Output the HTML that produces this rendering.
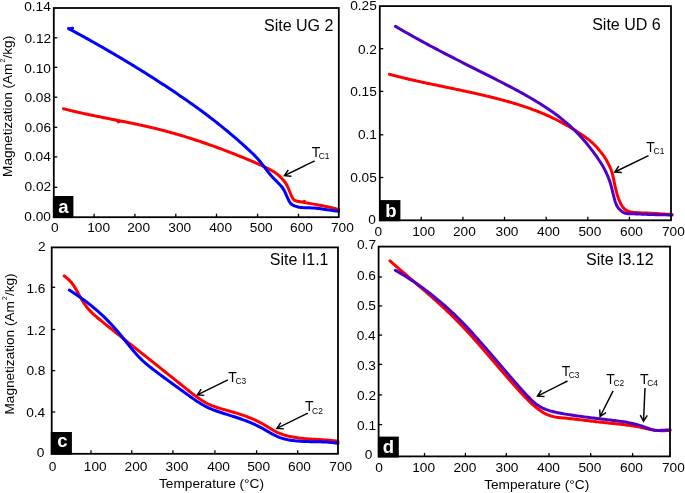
<!DOCTYPE html>
<html><head><meta charset="utf-8"><style>
html,body{margin:0;padding:0;background:#fff;}
svg{display:block;font-family:"Liberation Sans", sans-serif;}
</style></head><body>
<svg width="685" height="493" viewBox="0 0 685 493">
<rect width="685" height="493" fill="#fff"/>
<path d="M63.50,108.75 L65.00,109.13 L66.50,109.51 L68.00,109.89 L69.50,110.26 L71.00,110.62 L72.50,110.98 L74.00,111.33 L75.50,111.68 L77.00,112.03 L78.50,112.37 L80.00,112.71 L81.50,113.04 L83.00,113.37 L84.50,113.70 L86.00,114.02 L87.50,114.34 L89.00,114.66 L90.50,114.97 L92.00,115.28 L93.50,115.59 L95.00,115.90 L96.50,116.20 L98.00,116.51 L99.50,116.81 L101.00,117.11 L102.50,117.41 L104.00,117.70 L105.50,118.00 L107.00,118.29 L108.50,118.59 L110.00,118.88 L111.50,119.18 L113.00,119.47 L114.50,119.77 L116.00,120.06 L117.50,120.36 L119.00,120.65 L120.50,120.95 L122.00,121.24 L123.50,121.54 L125.00,121.84 L126.50,122.14 L128.00,122.45 L129.50,122.75 L131.00,123.06 L132.50,123.36 L134.00,123.68 L135.50,123.99 L137.00,124.31 L138.50,124.62 L140.00,124.95 L141.50,125.27 L143.00,125.60 L144.50,125.93 L146.00,126.27 L147.50,126.61 L149.00,126.95 L150.50,127.30 L152.00,127.65 L153.50,128.01 L155.00,128.37 L156.50,128.74 L158.00,129.11 L159.50,129.49 L161.00,129.87 L162.50,130.26 L164.00,130.65 L165.50,131.05 L167.00,131.45 L168.50,131.86 L170.00,132.27 L171.50,132.68 L173.00,133.10 L174.50,133.53 L176.00,133.96 L177.50,134.39 L179.00,134.83 L180.50,135.28 L182.00,135.73 L183.50,136.18 L185.00,136.64 L186.50,137.10 L188.00,137.56 L189.50,138.03 L191.00,138.51 L192.50,138.99 L194.00,139.47 L195.50,139.96 L197.00,140.45 L198.50,140.95 L200.00,141.45 L201.50,141.96 L203.00,142.47 L204.50,142.98 L206.00,143.50 L207.50,144.02 L209.00,144.55 L210.50,145.08 L212.00,145.61 L213.50,146.15 L215.00,146.69 L216.50,147.24 L218.00,147.79 L219.50,148.34 L221.00,148.90 L222.50,149.46 L224.00,150.03 L225.50,150.60 L227.00,151.17 L228.50,151.75 L230.00,152.33 L231.50,152.92 L233.00,153.51 L234.50,154.10 L236.00,154.69 L237.50,155.29 L239.00,155.90 L240.50,156.50 L242.00,157.11 L243.50,157.73 L245.00,158.35 L246.50,158.97 L248.00,159.59 L249.50,160.22 L251.00,160.85 L252.50,161.49 L254.00,162.13 L255.50,162.77 L257.00,163.43 L258.50,164.09 L260.00,164.77 L261.50,165.45 L263.00,166.15 L264.50,166.87 L266.00,167.59 L267.50,168.34 L269.00,169.11 L270.50,169.89 L272.00,170.71 L273.50,171.58 L275.00,172.54 L276.50,173.62 L278.00,174.81 L279.50,176.14 L281.00,177.59 L282.48,179.16 L283.83,180.73 L285.07,182.29 L286.19,183.93 L287.12,185.59 L287.89,187.22 L288.54,188.78 L289.15,190.31 L289.73,191.82 L290.32,193.29 L290.93,194.75 L291.58,196.18 L292.30,197.58 L293.13,198.91 L294.23,200.07 L295.73,200.83 L297.23,201.19 L298.73,201.50 L300.23,201.80 L301.73,202.08 L303.23,202.35 L304.73,202.61 L306.23,202.86 L307.73,203.11 L309.23,203.36 L310.73,203.61 L312.23,203.86 L313.73,204.12 L315.23,204.38 L316.73,204.65 L318.23,204.93 L319.73,205.21 L321.23,205.50 L322.73,205.80 L324.23,206.10 L325.73,206.41 L327.23,206.74 L328.73,207.07 L330.23,207.41 L331.73,207.77 L333.23,208.13 L334.73,208.51 L336.23,208.90 L337.73,209.30 L338.50,209.51" fill="none" stroke="#ff0000" stroke-width="3.0" stroke-linejoin="round" stroke-linecap="round"/>
<path d="M68.50,28.54 L70.00,29.34 L71.50,30.15 L73.00,30.95 L74.50,31.77 L76.00,32.58 L77.50,33.40 L79.00,34.21 L80.50,35.03 L82.00,35.86 L83.50,36.68 L85.00,37.51 L86.50,38.34 L88.00,39.17 L89.50,40.01 L91.00,40.85 L92.50,41.69 L94.00,42.53 L95.50,43.37 L97.00,44.22 L98.50,45.07 L100.00,45.93 L101.50,46.78 L103.00,47.64 L104.50,48.50 L106.00,49.37 L107.50,50.23 L109.00,51.10 L110.50,51.97 L112.00,52.85 L113.50,53.73 L115.00,54.61 L116.50,55.49 L118.00,56.38 L119.50,57.26 L121.00,58.16 L122.50,59.05 L124.00,59.95 L125.50,60.85 L127.00,61.75 L128.50,62.66 L130.00,63.57 L131.50,64.48 L133.00,65.40 L134.50,66.32 L136.00,67.24 L137.50,68.16 L139.00,69.09 L140.50,70.02 L142.00,70.95 L143.50,71.89 L145.00,72.83 L146.50,73.78 L148.00,74.72 L149.50,75.67 L151.00,76.63 L152.50,77.58 L154.00,78.54 L155.50,79.51 L157.00,80.47 L158.50,81.44 L160.00,82.42 L161.50,83.39 L163.00,84.37 L164.50,85.36 L166.00,86.34 L167.50,87.34 L169.00,88.33 L170.50,89.33 L172.00,90.33 L173.50,91.33 L175.00,92.34 L176.50,93.35 L178.00,94.37 L179.50,95.39 L181.00,96.42 L182.50,97.45 L184.00,98.48 L185.50,99.52 L187.00,100.57 L188.50,101.62 L190.00,102.67 L191.50,103.74 L193.00,104.80 L194.50,105.88 L196.00,106.96 L197.50,108.04 L199.00,109.13 L200.50,110.23 L202.00,111.33 L203.50,112.45 L205.00,113.56 L206.50,114.69 L208.00,115.82 L209.50,116.96 L211.00,118.11 L212.50,119.26 L214.00,120.43 L215.50,121.60 L217.00,122.78 L218.50,123.96 L220.00,125.16 L221.50,126.36 L223.00,127.58 L224.50,128.80 L226.00,130.03 L227.50,131.27 L229.00,132.52 L230.50,133.78 L232.00,135.05 L233.50,136.33 L235.00,137.61 L236.50,138.91 L238.00,140.22 L239.50,141.54 L241.00,142.87 L242.50,144.21 L244.00,145.56 L245.50,146.93 L247.00,148.30 L248.50,149.69 L250.00,151.08 L251.50,152.49 L253.00,153.93 L254.50,155.41 L255.99,156.94 L257.43,158.48 L258.79,160.01 L260.09,161.55 L261.33,163.09 L262.51,164.61 L263.66,166.12 L264.79,167.63 L265.92,169.12 L267.06,170.61 L268.21,172.09 L269.40,173.57 L270.63,175.03 L271.94,176.49 L273.32,177.95 L274.75,179.43 L276.22,180.92 L277.71,182.43 L279.18,183.95 L280.61,185.48 L281.96,187.08 L283.14,188.72 L284.12,190.36 L284.94,191.98 L285.65,193.53 L286.32,195.06 L286.97,196.56 L287.63,198.03 L288.31,199.49 L289.03,200.92 L289.83,202.30 L290.79,203.59 L292.14,204.75 L293.64,205.52 L295.14,206.10 L296.64,206.56 L298.14,206.93 L299.64,207.20 L301.14,207.41 L302.64,207.55 L304.14,207.65 L305.64,207.71 L307.14,207.75 L308.64,207.79 L310.14,207.83 L311.64,207.90 L313.14,208.00 L314.64,208.12 L316.14,208.26 L317.64,208.42 L319.14,208.60 L320.64,208.79 L322.14,209.00 L323.64,209.21 L325.14,209.43 L326.64,209.66 L328.14,209.88 L329.64,210.11 L331.14,210.33 L332.64,210.55 L334.14,210.75 L335.64,210.95 L337.14,211.13 L338.50,211.28" fill="none" stroke="#0000ff" stroke-width="3.0" stroke-linejoin="round" stroke-linecap="round"/>
<path d="M116.2,120.2 L118.4,122.1 L120.6,120.9" fill="none" stroke="#ff0000" stroke-width="2.6" stroke-linejoin="round"/>
<circle cx="304.4" cy="201.5" r="1.7" fill="#ff0000"/>
<path d="M69.3,28.9 L72.6,28.2" fill="none" stroke="#0000ff" stroke-width="3" stroke-linecap="round"/>
<path d="M389.40,74.28 L390.90,74.68 L392.40,75.08 L393.90,75.47 L395.40,75.86 L396.90,76.25 L398.40,76.63 L399.90,77.00 L401.40,77.37 L402.90,77.74 L404.40,78.10 L405.90,78.46 L407.40,78.82 L408.90,79.17 L410.40,79.52 L411.90,79.87 L413.40,80.21 L414.90,80.55 L416.40,80.89 L417.90,81.22 L419.40,81.55 L420.90,81.88 L422.40,82.21 L423.90,82.54 L425.40,82.86 L426.90,83.18 L428.40,83.51 L429.90,83.82 L431.40,84.14 L432.90,84.46 L434.40,84.77 L435.90,85.09 L437.40,85.40 L438.90,85.71 L440.40,86.02 L441.90,86.34 L443.40,86.65 L444.90,86.96 L446.40,87.27 L447.90,87.58 L449.40,87.89 L450.90,88.20 L452.40,88.51 L453.90,88.82 L455.40,89.14 L456.90,89.45 L458.40,89.76 L459.90,90.08 L461.40,90.40 L462.90,90.71 L464.40,91.03 L465.90,91.36 L467.40,91.68 L468.90,92.00 L470.40,92.33 L471.90,92.66 L473.40,92.99 L474.90,93.32 L476.40,93.66 L477.90,94.00 L479.40,94.34 L480.90,94.68 L482.40,95.03 L483.90,95.38 L485.40,95.74 L486.90,96.09 L488.40,96.46 L489.90,96.82 L491.40,97.19 L492.90,97.56 L494.40,97.94 L495.90,98.32 L497.40,98.70 L498.90,99.09 L500.40,99.49 L501.90,99.89 L503.40,100.29 L504.90,100.70 L506.40,101.12 L507.90,101.54 L509.40,101.96 L510.90,102.39 L512.40,102.83 L513.90,103.28 L515.40,103.73 L516.90,104.19 L518.40,104.66 L519.90,105.13 L521.40,105.61 L522.90,106.10 L524.40,106.60 L525.90,107.11 L527.40,107.63 L528.90,108.15 L530.40,108.69 L531.90,109.23 L533.40,109.79 L534.90,110.35 L536.40,110.93 L537.90,111.52 L539.40,112.12 L540.90,112.73 L542.40,113.35 L543.90,113.98 L545.40,114.63 L546.90,115.29 L548.40,115.96 L549.90,116.64 L551.40,117.34 L552.90,118.05 L554.40,118.77 L555.90,119.51 L557.40,120.26 L558.90,121.03 L560.40,121.81 L561.90,122.61 L563.40,123.42 L564.90,124.25 L566.40,125.09 L567.90,125.95 L569.40,126.83 L570.90,127.72 L572.40,128.63 L573.90,129.56 L575.40,130.51 L576.90,131.47 L578.40,132.45 L579.90,133.45 L581.40,134.46 L582.90,135.50 L584.40,136.56 L585.90,137.63 L587.40,138.73 L588.90,139.87 L590.40,141.08 L591.90,142.35 L593.40,143.73 L594.90,145.21 L596.36,146.77 L597.71,148.31 L598.99,149.84 L600.22,151.36 L601.42,152.87 L602.60,154.39 L603.76,155.93 L604.85,157.50 L605.84,159.08 L606.73,160.65 L607.55,162.20 L608.32,163.73 L609.06,165.24 L609.78,166.75 L610.50,168.31 L611.15,169.93 L611.71,171.55 L612.19,173.16 L612.60,174.76 L612.97,176.32 L613.31,177.86 L613.63,179.39 L613.95,180.90 L614.26,182.40 L614.57,183.89 L614.88,185.37 L615.21,186.84 L615.55,188.31 L615.90,189.77 L616.27,191.23 L616.67,192.69 L617.08,194.15 L617.52,195.60 L617.99,197.05 L618.49,198.49 L619.04,199.93 L619.63,201.36 L620.28,202.79 L621.00,204.20 L621.81,205.60 L622.75,206.98 L623.86,208.33 L625.26,209.62 L626.76,210.61 L628.26,211.27 L629.76,211.71 L631.26,211.99 L632.76,212.22 L634.26,212.40 L635.76,212.55 L637.26,212.67 L638.76,212.77 L640.26,212.84 L641.76,212.90 L643.26,212.96 L644.76,213.01 L646.26,213.06 L647.76,213.12 L649.26,213.18 L650.76,213.26 L652.26,213.34 L653.76,213.42 L655.26,213.51 L656.76,213.61 L658.26,213.70 L659.76,213.80 L661.26,213.89 L662.76,213.98 L664.26,214.07 L665.76,214.15 L667.26,214.22 L668.76,214.29 L670.26,214.35 L671.76,214.39 L672.00,214.40" fill="none" stroke="#ff0000" stroke-width="3.0" stroke-linejoin="round" stroke-linecap="round"/>
<path d="M395.50,26.36 L397.00,27.24 L398.50,28.12 L400.00,29.00 L401.50,29.87 L403.00,30.74 L404.50,31.60 L406.00,32.46 L407.50,33.32 L409.00,34.17 L410.50,35.02 L412.00,35.86 L413.50,36.70 L415.00,37.53 L416.50,38.37 L418.00,39.19 L419.50,40.02 L421.00,40.84 L422.50,41.66 L424.00,42.47 L425.50,43.28 L427.00,44.09 L428.50,44.90 L430.00,45.70 L431.50,46.50 L433.00,47.29 L434.50,48.09 L436.00,48.88 L437.50,49.67 L439.00,50.46 L440.50,51.24 L442.00,52.02 L443.50,52.80 L445.00,53.58 L446.50,54.36 L448.00,55.13 L449.50,55.90 L451.00,56.68 L452.50,57.45 L454.00,58.21 L455.50,58.98 L457.00,59.74 L458.50,60.51 L460.00,61.27 L461.50,62.03 L463.00,62.79 L464.50,63.55 L466.00,64.31 L467.50,65.07 L469.00,65.83 L470.50,66.59 L472.00,67.34 L473.50,68.10 L475.00,68.85 L476.50,69.61 L478.00,70.37 L479.50,71.12 L481.00,71.88 L482.50,72.63 L484.00,73.39 L485.50,74.15 L487.00,74.90 L488.50,75.66 L490.00,76.42 L491.50,77.18 L493.00,77.94 L494.50,78.70 L496.00,79.46 L497.50,80.22 L499.00,80.99 L500.50,81.75 L502.00,82.52 L503.50,83.29 L505.00,84.06 L506.50,84.84 L508.00,85.61 L509.50,86.40 L511.00,87.18 L512.50,87.97 L514.00,88.77 L515.50,89.57 L517.00,90.38 L518.50,91.19 L520.00,92.01 L521.50,92.83 L523.00,93.66 L524.50,94.50 L526.00,95.35 L527.50,96.20 L529.00,97.06 L530.50,97.93 L532.00,98.81 L533.50,99.70 L535.00,100.60 L536.50,101.51 L538.00,102.42 L539.50,103.35 L541.00,104.29 L542.50,105.24 L544.00,106.21 L545.50,107.18 L547.00,108.17 L548.50,109.17 L550.00,110.19 L551.50,111.23 L553.00,112.28 L554.50,113.36 L556.00,114.45 L557.50,115.57 L559.00,116.71 L560.50,117.88 L562.00,119.07 L563.50,120.30 L565.00,121.54 L566.50,122.82 L568.00,124.13 L569.50,125.48 L571.00,126.85 L572.50,128.26 L574.00,129.71 L575.50,131.19 L577.00,132.71 L578.46,134.23 L579.88,135.75 L581.27,137.27 L582.62,138.78 L583.95,140.30 L585.24,141.82 L586.51,143.33 L587.75,144.85 L588.96,146.37 L590.15,147.88 L591.32,149.40 L592.46,150.91 L593.58,152.42 L594.68,153.94 L595.76,155.45 L596.83,156.96 L597.87,158.48 L598.90,159.99 L599.91,161.50 L600.90,163.03 L601.86,164.56 L602.78,166.09 L603.66,167.63 L604.50,169.17 L605.29,170.71 L606.05,172.25 L606.76,173.79 L607.44,175.33 L608.08,176.87 L608.70,178.40 L609.27,179.95 L609.82,181.51 L610.32,183.08 L610.77,184.64 L611.20,186.19 L611.60,187.72 L611.98,189.24 L612.36,190.75 L612.73,192.26 L613.10,193.75 L613.47,195.24 L613.84,196.72 L614.23,198.20 L614.63,199.66 L615.05,201.11 L615.51,202.53 L616.02,203.92 L616.62,205.28 L617.35,206.62 L618.27,207.93 L619.46,209.29 L620.88,210.66 L622.38,211.82 L623.88,212.67 L625.38,213.23 L626.88,213.57 L628.38,213.73 L629.88,213.79 L631.38,213.80 L632.88,213.82 L634.38,213.85 L635.88,213.89 L637.38,213.95 L638.88,214.01 L640.38,214.08 L641.88,214.15 L643.38,214.22 L644.88,214.29 L646.38,214.36 L647.88,214.42 L649.38,214.48 L650.88,214.53 L652.38,214.57 L653.88,214.61 L655.38,214.65 L656.88,214.68 L658.38,214.71 L659.88,214.74 L661.38,214.77 L662.88,214.80 L664.38,214.82 L665.88,214.85 L667.38,214.88 L668.88,214.92 L670.38,214.96 L671.88,215.00 L672.00,215.00" fill="none" stroke="#5000c8" stroke-width="3.0" stroke-linejoin="round" stroke-linecap="round"/>
<path d="M64.20,275.94 L65.70,277.07 L67.20,278.29 L68.70,279.63 L70.20,281.15 L71.59,282.75 L72.81,284.34 L73.89,285.92 L74.86,287.48 L75.77,289.02 L76.64,290.54 L77.48,292.06 L78.30,293.56 L79.12,295.06 L79.95,296.55 L80.78,298.03 L81.64,299.51 L82.53,300.97 L83.47,302.43 L84.46,303.89 L85.51,305.35 L86.61,306.80 L87.79,308.26 L89.03,309.71 L90.36,311.17 L91.78,312.62 L93.28,314.06 L94.78,315.43 L96.28,316.73 L97.78,317.99 L99.28,319.22 L100.78,320.44 L102.28,321.66 L103.78,322.87 L105.28,324.08 L106.78,325.30 L108.28,326.51 L109.78,327.71 L111.28,328.92 L112.78,330.13 L114.28,331.33 L115.78,332.54 L117.28,333.74 L118.78,334.94 L120.28,336.14 L121.78,337.34 L123.28,338.54 L124.78,339.73 L126.28,340.93 L127.78,342.13 L129.28,343.32 L130.78,344.52 L132.28,345.71 L133.78,346.90 L135.28,348.10 L136.78,349.29 L138.28,350.48 L139.78,351.68 L141.28,352.87 L142.78,354.06 L144.28,355.25 L145.78,356.44 L147.28,357.63 L148.78,358.83 L150.28,360.02 L151.78,361.21 L153.28,362.40 L154.78,363.59 L156.28,364.79 L157.78,365.98 L159.28,367.17 L160.78,368.37 L162.28,369.56 L163.78,370.76 L165.28,371.95 L166.78,373.15 L168.28,374.35 L169.78,375.55 L171.28,376.75 L172.78,377.95 L174.28,379.15 L175.78,380.35 L177.28,381.55 L178.78,382.76 L180.28,383.97 L181.78,385.17 L183.28,386.38 L184.78,387.59 L186.28,388.80 L187.78,390.01 L189.28,391.21 L190.78,392.40 L192.28,393.58 L193.78,394.73 L195.28,395.86 L196.78,396.97 L198.28,398.04 L199.78,399.07 L201.28,400.06 L202.78,401.00 L204.28,401.89 L205.78,402.72 L207.28,403.50 L208.78,404.23 L210.28,404.91 L211.78,405.54 L213.28,406.13 L214.78,406.69 L216.28,407.21 L217.78,407.70 L219.28,408.18 L220.78,408.63 L222.28,409.07 L223.78,409.50 L225.28,409.92 L226.78,410.34 L228.28,410.76 L229.78,411.19 L231.28,411.62 L232.78,412.05 L234.28,412.49 L235.78,412.93 L237.28,413.39 L238.78,413.86 L240.28,414.34 L241.78,414.83 L243.28,415.34 L244.78,415.86 L246.28,416.41 L247.78,416.97 L249.28,417.55 L250.78,418.16 L252.28,418.79 L253.78,419.44 L255.28,420.12 L256.78,420.83 L258.28,421.57 L259.78,422.34 L261.28,423.14 L262.78,423.98 L264.28,424.85 L265.78,425.74 L267.28,426.65 L268.78,427.57 L270.28,428.48 L271.78,429.37 L273.28,430.23 L274.78,431.05 L276.28,431.82 L277.78,432.53 L279.28,433.19 L280.78,433.78 L282.28,434.33 L283.78,434.83 L285.28,435.28 L286.78,435.70 L288.28,436.08 L289.78,436.43 L291.28,436.75 L292.78,437.05 L294.28,437.32 L295.78,437.57 L297.28,437.80 L298.78,438.00 L300.28,438.19 L301.78,438.36 L303.28,438.51 L304.78,438.66 L306.28,438.78 L307.78,438.90 L309.28,439.01 L310.78,439.11 L312.28,439.20 L313.78,439.29 L315.28,439.37 L316.78,439.45 L318.28,439.53 L319.78,439.61 L321.28,439.70 L322.78,439.79 L324.28,439.88 L325.78,439.98 L327.28,440.09 L328.78,440.21 L330.28,440.34 L331.78,440.48 L333.28,440.64 L334.78,440.81 L336.28,441.01 L337.78,441.22 L338.00,441.25" fill="none" stroke="#ff0000" stroke-width="3.0" stroke-linejoin="round" stroke-linecap="round"/>
<path d="M69.30,290.08 L70.80,291.04 L72.30,292.01 L73.80,293.00 L75.30,293.99 L76.80,295.00 L78.30,296.03 L79.80,297.07 L81.30,298.13 L82.80,299.21 L84.30,300.30 L85.80,301.42 L87.30,302.55 L88.80,303.71 L90.30,304.89 L91.80,306.10 L93.30,307.33 L94.80,308.58 L96.30,309.86 L97.80,311.17 L99.30,312.51 L100.80,313.87 L102.30,315.27 L103.80,316.69 L105.30,318.15 L106.80,319.64 L108.29,321.16 L109.75,322.67 L111.18,324.19 L112.58,325.71 L113.95,327.22 L115.29,328.74 L116.60,330.25 L117.89,331.77 L119.15,333.28 L120.40,334.79 L121.62,336.30 L122.84,337.80 L124.05,339.30 L125.25,340.81 L126.45,342.31 L127.65,343.80 L128.86,345.30 L130.07,346.79 L131.29,348.28 L132.53,349.77 L133.79,351.26 L135.07,352.74 L136.38,354.23 L137.72,355.70 L139.11,357.18 L140.55,358.64 L142.05,360.11 L143.55,361.50 L145.05,362.85 L146.55,364.14 L148.05,365.39 L149.55,366.60 L151.05,367.78 L152.55,368.94 L154.05,370.09 L155.55,371.22 L157.05,372.35 L158.55,373.47 L160.05,374.59 L161.55,375.71 L163.05,376.82 L164.55,377.92 L166.05,379.03 L167.55,380.13 L169.05,381.23 L170.55,382.32 L172.05,383.42 L173.55,384.51 L175.05,385.60 L176.55,386.69 L178.05,387.78 L179.55,388.87 L181.05,389.95 L182.55,391.04 L184.05,392.13 L185.55,393.22 L187.05,394.31 L188.55,395.40 L190.05,396.48 L191.55,397.54 L193.05,398.60 L194.55,399.64 L196.05,400.65 L197.55,401.64 L199.05,402.61 L200.55,403.54 L202.05,404.44 L203.55,405.29 L205.05,406.11 L206.55,406.88 L208.05,407.61 L209.55,408.30 L211.05,408.95 L212.55,409.57 L214.05,410.16 L215.55,410.72 L217.05,411.26 L218.55,411.78 L220.05,412.28 L221.55,412.76 L223.05,413.24 L224.55,413.71 L226.05,414.18 L227.55,414.65 L229.05,415.11 L230.55,415.58 L232.05,416.06 L233.55,416.53 L235.05,417.02 L236.55,417.51 L238.05,418.01 L239.55,418.52 L241.05,419.04 L242.55,419.57 L244.05,420.11 L245.55,420.67 L247.05,421.25 L248.55,421.84 L250.05,422.45 L251.55,423.09 L253.05,423.74 L254.55,424.41 L256.05,425.11 L257.55,425.83 L259.05,426.58 L260.55,427.35 L262.05,428.16 L263.55,428.99 L265.05,429.85 L266.55,430.72 L268.05,431.60 L269.55,432.48 L271.05,433.34 L272.55,434.17 L274.05,434.96 L275.55,435.71 L277.05,436.39 L278.55,437.01 L280.05,437.57 L281.55,438.08 L283.05,438.53 L284.55,438.94 L286.05,439.30 L287.55,439.63 L289.05,439.92 L290.55,440.18 L292.05,440.41 L293.55,440.61 L295.05,440.80 L296.55,440.95 L298.05,441.09 L299.55,441.21 L301.05,441.31 L302.55,441.39 L304.05,441.46 L305.55,441.52 L307.05,441.57 L308.55,441.61 L310.05,441.65 L311.55,441.68 L313.05,441.70 L314.55,441.73 L316.05,441.76 L317.55,441.79 L319.05,441.82 L320.55,441.86 L322.05,441.91 L323.55,441.97 L325.05,442.03 L326.55,442.12 L328.05,442.22 L329.55,442.33 L331.05,442.46 L332.55,442.62 L334.05,442.80 L335.55,443.00 L337.05,443.23 L338.00,443.38" fill="none" stroke="#0000ff" stroke-width="3.0" stroke-linejoin="round" stroke-linecap="round"/>
<path d="M390.00,260.85 L391.50,262.19 L393.00,263.52 L394.50,264.84 L396.00,266.16 L397.50,267.47 L399.00,268.78 L400.50,270.08 L402.00,271.38 L403.50,272.67 L405.00,273.96 L406.50,275.25 L408.00,276.53 L409.50,277.82 L411.00,279.10 L412.50,280.38 L414.00,281.66 L415.50,282.94 L417.00,284.22 L418.50,285.50 L420.00,286.79 L421.50,288.08 L423.00,289.37 L424.50,290.67 L426.00,291.96 L427.50,293.27 L429.00,294.58 L430.50,295.89 L432.00,297.22 L433.50,298.55 L435.00,299.88 L436.50,301.23 L438.00,302.58 L439.50,303.94 L441.00,305.31 L442.50,306.70 L444.00,308.09 L445.50,309.50 L447.00,310.91 L448.50,312.34 L450.00,313.78 L451.50,315.24 L453.00,316.71 L454.50,318.19 L456.00,319.69 L457.49,321.20 L458.97,322.71 L460.43,324.22 L461.88,325.73 L463.31,327.23 L464.72,328.74 L466.12,330.25 L467.51,331.75 L468.89,333.26 L470.26,334.76 L471.62,336.27 L472.97,337.77 L474.31,339.28 L475.65,340.78 L476.98,342.29 L478.30,343.79 L479.61,345.29 L480.92,346.80 L482.23,348.30 L483.53,349.80 L484.83,351.30 L486.12,352.80 L487.41,354.31 L488.70,355.81 L489.99,357.31 L491.27,358.81 L492.56,360.31 L493.84,361.81 L495.12,363.31 L496.41,364.81 L497.69,366.31 L498.98,367.81 L500.26,369.31 L501.55,370.80 L502.84,372.30 L504.14,373.80 L505.43,375.30 L506.74,376.80 L508.04,378.29 L509.35,379.79 L510.67,381.29 L511.99,382.78 L513.31,384.28 L514.65,385.78 L515.99,387.27 L517.34,388.77 L518.70,390.26 L520.07,391.76 L521.45,393.25 L522.84,394.74 L524.25,396.23 L525.67,397.72 L527.13,399.20 L528.61,400.69 L530.11,402.15 L531.61,403.56 L533.11,404.93 L534.61,406.24 L536.11,407.50 L537.61,408.69 L539.11,409.82 L540.61,410.88 L542.11,411.85 L543.61,412.75 L545.11,413.56 L546.61,414.29 L548.11,414.92 L549.61,415.47 L551.11,415.95 L552.61,416.36 L554.11,416.71 L555.61,417.01 L557.11,417.26 L558.61,417.47 L560.11,417.66 L561.61,417.82 L563.11,417.96 L564.61,418.10 L566.11,418.23 L567.61,418.37 L569.11,418.52 L570.61,418.67 L572.11,418.83 L573.61,419.00 L575.11,419.16 L576.61,419.34 L578.11,419.51 L579.61,419.69 L581.11,419.87 L582.61,420.05 L584.11,420.24 L585.61,420.42 L587.11,420.61 L588.61,420.80 L590.11,420.98 L591.61,421.17 L593.11,421.35 L594.61,421.53 L596.11,421.71 L597.61,421.88 L599.11,422.05 L600.61,422.22 L602.11,422.38 L603.61,422.54 L605.11,422.70 L606.61,422.85 L608.11,423.00 L609.61,423.15 L611.11,423.30 L612.61,423.46 L614.11,423.61 L615.61,423.76 L617.11,423.92 L618.61,424.08 L620.11,424.24 L621.61,424.41 L623.11,424.59 L624.61,424.77 L626.11,424.96 L627.61,425.16 L629.11,425.37 L630.61,425.58 L632.11,425.81 L633.61,426.04 L635.11,426.29 L636.61,426.55 L638.11,426.83 L639.61,427.12 L641.11,427.42 L642.61,427.74 L644.11,428.07 L645.61,428.42 L647.11,428.76 L648.61,429.10 L650.11,429.42 L651.61,429.72 L653.11,429.98 L654.61,430.21 L656.11,430.39 L657.61,430.53 L659.11,430.62 L660.61,430.67 L662.11,430.68 L663.61,430.67 L665.11,430.63 L666.61,430.56 L668.11,430.48 L669.61,430.38 L670.00,430.35" fill="none" stroke="#ff0000" stroke-width="3.0" stroke-linejoin="round" stroke-linecap="round"/>
<path d="M395.30,270.22 L396.80,271.08 L398.30,271.96 L399.80,272.84 L401.30,273.74 L402.80,274.65 L404.30,275.57 L405.80,276.51 L407.30,277.45 L408.80,278.41 L410.30,279.39 L411.80,280.37 L413.30,281.37 L414.80,282.38 L416.30,283.41 L417.80,284.45 L419.30,285.50 L420.80,286.57 L422.30,287.65 L423.80,288.75 L425.30,289.86 L426.80,290.98 L428.30,292.12 L429.80,293.28 L431.30,294.45 L432.80,295.64 L434.30,296.84 L435.80,298.06 L437.30,299.29 L438.80,300.54 L440.30,301.81 L441.80,303.09 L443.30,304.39 L444.80,305.70 L446.30,307.04 L447.80,308.39 L449.30,309.75 L450.80,311.14 L452.30,312.54 L453.80,313.96 L455.30,315.40 L456.80,316.86 L458.30,318.33 L459.80,319.83 L461.30,321.34 L462.78,322.84 L464.24,324.35 L465.68,325.86 L467.11,327.37 L468.53,328.87 L469.93,330.38 L471.33,331.89 L472.71,333.39 L474.08,334.90 L475.44,336.40 L476.79,337.91 L478.14,339.41 L479.47,340.92 L480.80,342.42 L482.13,343.92 L483.45,345.43 L484.76,346.93 L486.07,348.43 L487.37,349.93 L488.67,351.44 L489.96,352.94 L491.26,354.44 L492.55,355.94 L493.83,357.44 L495.12,358.94 L496.40,360.44 L497.69,361.94 L498.97,363.44 L500.25,364.94 L501.54,366.44 L502.82,367.94 L504.10,369.44 L505.39,370.94 L506.68,372.44 L507.97,373.94 L509.26,375.44 L510.56,376.93 L511.86,378.43 L513.16,379.93 L514.47,381.43 L515.78,382.92 L517.10,384.42 L518.42,385.92 L519.75,387.41 L521.09,388.91 L522.43,390.40 L523.78,391.90 L525.14,393.39 L526.51,394.89 L527.90,396.38 L529.31,397.86 L530.76,399.33 L532.26,400.78 L533.76,402.15 L535.26,403.41 L536.76,404.56 L538.26,405.59 L539.76,406.52 L541.26,407.35 L542.76,408.09 L544.26,408.76 L545.76,409.37 L547.26,409.92 L548.76,410.42 L550.26,410.88 L551.76,411.29 L553.26,411.68 L554.76,412.04 L556.26,412.38 L557.76,412.70 L559.26,413.01 L560.76,413.31 L562.26,413.59 L563.76,413.86 L565.26,414.12 L566.76,414.37 L568.26,414.61 L569.76,414.84 L571.26,415.07 L572.76,415.29 L574.26,415.50 L575.76,415.72 L577.26,415.92 L578.76,416.13 L580.26,416.34 L581.76,416.54 L583.26,416.74 L584.76,416.93 L586.26,417.13 L587.76,417.32 L589.26,417.51 L590.76,417.70 L592.26,417.89 L593.76,418.07 L595.26,418.26 L596.76,418.44 L598.26,418.62 L599.76,418.80 L601.26,418.98 L602.76,419.16 L604.26,419.34 L605.76,419.52 L607.26,419.70 L608.76,419.87 L610.26,420.05 L611.76,420.23 L613.26,420.41 L614.76,420.59 L616.26,420.78 L617.76,420.97 L619.26,421.17 L620.76,421.38 L622.26,421.59 L623.76,421.82 L625.26,422.07 L626.76,422.32 L628.26,422.60 L629.76,422.89 L631.26,423.20 L632.76,423.53 L634.26,423.89 L635.76,424.27 L637.26,424.67 L638.76,425.10 L640.26,425.56 L641.76,426.05 L643.26,426.57 L644.76,427.12 L646.26,427.68 L647.76,428.22 L649.26,428.74 L650.76,429.22 L652.26,429.63 L653.76,429.96 L655.26,430.18 L656.76,430.32 L658.26,430.38 L659.76,430.38 L661.26,430.33 L662.76,430.26 L664.26,430.18 L665.76,430.10 L667.26,430.05 L668.76,430.04 L670.10,430.07" fill="none" stroke="#5000c8" stroke-width="3.0" stroke-linejoin="round" stroke-linecap="round"/>
<g opacity="0.999">
<rect x="53.8" y="8.0" width="285.00" height="209.20" fill="none" stroke="#000" stroke-width="1.8"/>
<line x1="53.8" y1="37.8" x2="57.3" y2="37.8" stroke="#000" stroke-width="1.3"/>
<line x1="53.8" y1="67.3" x2="57.3" y2="67.3" stroke="#000" stroke-width="1.3"/>
<line x1="53.8" y1="97.2" x2="57.3" y2="97.2" stroke="#000" stroke-width="1.3"/>
<line x1="53.8" y1="127.3" x2="57.3" y2="127.3" stroke="#000" stroke-width="1.3"/>
<line x1="53.8" y1="156.9" x2="57.3" y2="156.9" stroke="#000" stroke-width="1.3"/>
<line x1="53.8" y1="187.3" x2="57.3" y2="187.3" stroke="#000" stroke-width="1.3"/>
<line x1="94.1" y1="217.2" x2="94.1" y2="213.7" stroke="#000" stroke-width="1.3"/>
<line x1="134.9" y1="217.2" x2="134.9" y2="213.7" stroke="#000" stroke-width="1.3"/>
<line x1="175.8" y1="217.2" x2="175.8" y2="213.7" stroke="#000" stroke-width="1.3"/>
<line x1="216.5" y1="217.2" x2="216.5" y2="213.7" stroke="#000" stroke-width="1.3"/>
<line x1="257.6" y1="217.2" x2="257.6" y2="213.7" stroke="#000" stroke-width="1.3"/>
<line x1="298.5" y1="217.2" x2="298.5" y2="213.7" stroke="#000" stroke-width="1.3"/>
<rect x="52.9" y="196" width="20.50" height="22.10" fill="#000"/>
<path d="M314.70,160.80 L284.40,175.70 M291.38,176.17 L284.40,175.70 L288.30,169.88" fill="none" stroke="#000" stroke-width="1.45"/>
<rect x="379.8" y="6.1" width="291.20" height="214.20" fill="none" stroke="#000" stroke-width="1.8"/>
<line x1="379.8" y1="48.7" x2="383.3" y2="48.7" stroke="#000" stroke-width="1.3"/>
<line x1="379.8" y1="91.4" x2="383.3" y2="91.4" stroke="#000" stroke-width="1.3"/>
<line x1="379.8" y1="134.8" x2="383.3" y2="134.8" stroke="#000" stroke-width="1.3"/>
<line x1="379.8" y1="177.5" x2="383.3" y2="177.5" stroke="#000" stroke-width="1.3"/>
<line x1="421.2" y1="220.3" x2="421.2" y2="216.8" stroke="#000" stroke-width="1.3"/>
<line x1="462.9" y1="220.3" x2="462.9" y2="216.8" stroke="#000" stroke-width="1.3"/>
<line x1="504.5" y1="220.3" x2="504.5" y2="216.8" stroke="#000" stroke-width="1.3"/>
<line x1="546.2" y1="220.3" x2="546.2" y2="216.8" stroke="#000" stroke-width="1.3"/>
<line x1="587.8" y1="220.3" x2="587.8" y2="216.8" stroke="#000" stroke-width="1.3"/>
<line x1="629.4" y1="220.3" x2="629.4" y2="216.8" stroke="#000" stroke-width="1.3"/>
<rect x="379.1" y="200.1" width="21.30" height="21.10" fill="#000"/>
<path d="M648.50,155.70 L614.80,172.00 M621.78,172.51 L614.80,172.00 L618.73,166.21" fill="none" stroke="#000" stroke-width="1.45"/>
<rect x="51.7" y="247.4" width="286.30" height="206.40" fill="none" stroke="#000" stroke-width="1.8"/>
<line x1="51.7" y1="287.3" x2="55.2" y2="287.3" stroke="#000" stroke-width="1.3"/>
<line x1="51.7" y1="329.5" x2="55.2" y2="329.5" stroke="#000" stroke-width="1.3"/>
<line x1="51.7" y1="370.6" x2="55.2" y2="370.6" stroke="#000" stroke-width="1.3"/>
<line x1="51.7" y1="412.0" x2="55.2" y2="412.0" stroke="#000" stroke-width="1.3"/>
<line x1="91" y1="453.8" x2="91" y2="450.3" stroke="#000" stroke-width="1.3"/>
<line x1="131.7" y1="453.8" x2="131.7" y2="450.3" stroke="#000" stroke-width="1.3"/>
<line x1="172.9" y1="453.8" x2="172.9" y2="450.3" stroke="#000" stroke-width="1.3"/>
<line x1="214.9" y1="453.8" x2="214.9" y2="450.3" stroke="#000" stroke-width="1.3"/>
<line x1="256.6" y1="453.8" x2="256.6" y2="450.3" stroke="#000" stroke-width="1.3"/>
<line x1="297.7" y1="453.8" x2="297.7" y2="450.3" stroke="#000" stroke-width="1.3"/>
<rect x="50.8" y="432" width="21.10" height="22.70" fill="#000"/>
<path d="M227.90,379.90 L197.30,394.90 M204.28,395.37 L197.30,394.90 L201.20,389.09" fill="none" stroke="#000" stroke-width="1.45"/>
<path d="M307.80,413.10 L276.90,428.40 M283.89,428.85 L276.90,428.40 L280.78,422.57" fill="none" stroke="#000" stroke-width="1.45"/>
<rect x="378.6" y="246.6" width="291.40" height="209.80" fill="none" stroke="#000" stroke-width="1.8"/>
<line x1="378.6" y1="277" x2="382.1" y2="277" stroke="#000" stroke-width="1.3"/>
<line x1="378.6" y1="305.9" x2="382.1" y2="305.9" stroke="#000" stroke-width="1.3"/>
<line x1="378.6" y1="335.1" x2="382.1" y2="335.1" stroke="#000" stroke-width="1.3"/>
<line x1="378.6" y1="364.4" x2="382.1" y2="364.4" stroke="#000" stroke-width="1.3"/>
<line x1="378.6" y1="394.9" x2="382.1" y2="394.9" stroke="#000" stroke-width="1.3"/>
<line x1="378.6" y1="424.6" x2="382.1" y2="424.6" stroke="#000" stroke-width="1.3"/>
<line x1="424.5" y1="456.4" x2="424.5" y2="452.9" stroke="#000" stroke-width="1.3"/>
<line x1="465.4" y1="456.4" x2="465.4" y2="452.9" stroke="#000" stroke-width="1.3"/>
<line x1="506.3" y1="456.4" x2="506.3" y2="452.9" stroke="#000" stroke-width="1.3"/>
<line x1="549" y1="456.4" x2="549" y2="452.9" stroke="#000" stroke-width="1.3"/>
<line x1="590.7" y1="456.4" x2="590.7" y2="452.9" stroke="#000" stroke-width="1.3"/>
<line x1="632.6" y1="456.4" x2="632.6" y2="452.9" stroke="#000" stroke-width="1.3"/>
<rect x="377.9" y="436.6" width="20.90" height="20.90" fill="#000"/>
<path d="M567.50,381.00 L537.50,396.10 M544.49,396.50 L537.50,396.10 L541.34,390.25" fill="none" stroke="#000" stroke-width="1.45"/>
<path d="M613.10,390.90 L600.10,416.50 M605.97,412.68 L600.10,416.50 L599.72,409.51" fill="none" stroke="#000" stroke-width="1.45"/>
<path d="M645.00,388.00 L643.50,421.30 M647.27,415.40 L643.50,421.30 L640.28,415.09" fill="none" stroke="#000" stroke-width="1.45"/>
<text transform="translate(12.20,176.89) rotate(-90)" font-size="13.6">Magnetization (Am<tspan font-size="6.6" dx="1.1" dy="-6.9">2</tspan><tspan dx="0.3" dy="6.9">/kg)</tspan></text>
<text transform="translate(14.00,414.49) rotate(-90)" font-size="13.6">Magnetization (Am<tspan font-size="6.6" dx="1.1" dy="-6.9">2</tspan><tspan dx="0.3" dy="6.9">/kg)</tspan></text>
<text x="24.19" y="11.36" font-size="13.7" font-weight="normal" fill="#000">0.14</text>
<text x="24.47" y="43.26" font-size="13.7" font-weight="normal" fill="#000">0.12</text>
<text x="24.33" y="72.56" font-size="13.7" font-weight="normal" fill="#000">0.10</text>
<text x="24.40" y="102.26" font-size="13.7" font-weight="normal" fill="#000">0.08</text>
<text x="24.40" y="131.86" font-size="13.7" font-weight="normal" fill="#000">0.06</text>
<text x="24.19" y="161.06" font-size="13.7" font-weight="normal" fill="#000">0.04</text>
<text x="24.47" y="191.06" font-size="13.7" font-weight="normal" fill="#000">0.02</text>
<text x="24.33" y="220.86" font-size="13.7" font-weight="normal" fill="#000">0.00</text>
<text x="51.02" y="232.36" font-size="13.7" font-weight="normal" fill="#000">0</text>
<text x="87.17" y="232.36" font-size="13.7" font-weight="normal" fill="#000">100</text>
<text x="127.22" y="232.36" font-size="13.7" font-weight="normal" fill="#000">200</text>
<text x="168.32" y="232.36" font-size="13.7" font-weight="normal" fill="#000">300</text>
<text x="209.23" y="232.36" font-size="13.7" font-weight="normal" fill="#000">400</text>
<text x="249.85" y="232.36" font-size="13.7" font-weight="normal" fill="#000">500</text>
<text x="290.12" y="232.36" font-size="13.7" font-weight="normal" fill="#000">600</text>
<text x="331.01" y="232.36" font-size="13.7" font-weight="normal" fill="#000">700</text>
<text x="350.20" y="10.06" font-size="13.7" font-weight="normal" fill="#000">0.25</text>
<text x="357.89" y="53.56" font-size="13.7" font-weight="normal" fill="#000">0.2</text>
<text x="350.20" y="96.16" font-size="13.7" font-weight="normal" fill="#000">0.15</text>
<text x="357.89" y="139.16" font-size="13.7" font-weight="normal" fill="#000">0.1</text>
<text x="350.20" y="181.86" font-size="13.7" font-weight="normal" fill="#000">0.05</text>
<text x="368.18" y="224.46" font-size="13.7" font-weight="normal" fill="#000">0</text>
<text x="374.62" y="235.86" font-size="13.7" font-weight="normal" fill="#000">0</text>
<text x="412.17" y="235.86" font-size="13.7" font-weight="normal" fill="#000">100</text>
<text x="452.92" y="235.86" font-size="13.7" font-weight="normal" fill="#000">200</text>
<text x="495.62" y="235.86" font-size="13.7" font-weight="normal" fill="#000">300</text>
<text x="537.03" y="235.86" font-size="13.7" font-weight="normal" fill="#000">400</text>
<text x="578.45" y="235.86" font-size="13.7" font-weight="normal" fill="#000">500</text>
<text x="620.02" y="235.86" font-size="13.7" font-weight="normal" fill="#000">600</text>
<text x="661.92" y="235.86" font-size="13.7" font-weight="normal" fill="#000">700</text>
<text x="37.91" y="250.90" font-size="13.7" font-weight="normal" fill="#000">2</text>
<text x="26.42" y="292.66" font-size="13.7" font-weight="normal" fill="#000">1.6</text>
<text x="26.49" y="334.50" font-size="13.7" font-weight="normal" fill="#000">1.2</text>
<text x="26.42" y="374.86" font-size="13.7" font-weight="normal" fill="#000">0.8</text>
<text x="26.21" y="416.86" font-size="13.7" font-weight="normal" fill="#000">0.4</text>
<text x="36.68" y="457.06" font-size="13.7" font-weight="normal" fill="#000">0</text>
<text x="48.82" y="471.36" font-size="13.7" font-weight="normal" fill="#000">0</text>
<text x="83.77" y="471.36" font-size="13.7" font-weight="normal" fill="#000">100</text>
<text x="124.61" y="471.36" font-size="13.7" font-weight="normal" fill="#000">200</text>
<text x="165.62" y="471.36" font-size="13.7" font-weight="normal" fill="#000">300</text>
<text x="207.13" y="471.36" font-size="13.7" font-weight="normal" fill="#000">400</text>
<text x="247.25" y="471.36" font-size="13.7" font-weight="normal" fill="#000">500</text>
<text x="288.12" y="471.36" font-size="13.7" font-weight="normal" fill="#000">600</text>
<text x="329.31" y="471.36" font-size="13.7" font-weight="normal" fill="#000">700</text>
<text x="356.99" y="249.16" font-size="13.7" font-weight="normal" fill="#000">0.7</text>
<text x="356.92" y="280.06" font-size="13.7" font-weight="normal" fill="#000">0.6</text>
<text x="356.92" y="310.06" font-size="13.7" font-weight="normal" fill="#000">0.5</text>
<text x="356.71" y="339.86" font-size="13.7" font-weight="normal" fill="#000">0.4</text>
<text x="356.92" y="369.66" font-size="13.7" font-weight="normal" fill="#000">0.3</text>
<text x="356.99" y="400.06" font-size="13.7" font-weight="normal" fill="#000">0.2</text>
<text x="356.99" y="429.66" font-size="13.7" font-weight="normal" fill="#000">0.1</text>
<text x="364.68" y="459.36" font-size="13.7" font-weight="normal" fill="#000">0</text>
<text x="375.32" y="471.66" font-size="13.7" font-weight="normal" fill="#000">0</text>
<text x="412.17" y="471.66" font-size="13.7" font-weight="normal" fill="#000">100</text>
<text x="453.42" y="471.66" font-size="13.7" font-weight="normal" fill="#000">200</text>
<text x="495.62" y="471.66" font-size="13.7" font-weight="normal" fill="#000">300</text>
<text x="537.03" y="471.66" font-size="13.7" font-weight="normal" fill="#000">400</text>
<text x="578.45" y="471.66" font-size="13.7" font-weight="normal" fill="#000">500</text>
<text x="620.02" y="471.66" font-size="13.7" font-weight="normal" fill="#000">600</text>
<text x="661.92" y="471.66" font-size="13.7" font-weight="normal" fill="#000">700</text>
<text x="263.98" y="30.64" font-size="16" font-weight="normal" fill="#000">Site UG 2</text>
<text x="592.18" y="29.54" font-size="16" font-weight="normal" fill="#000">Site UD 6</text>
<text x="269.78" y="264.94" font-size="16" font-weight="normal" fill="#000">Site I1.1</text>
<text x="585.98" y="265.04" font-size="16" font-weight="normal" fill="#000">Site I3.12</text>
<text x="158.93" y="487.52" font-size="13.7" font-weight="normal" fill="#000">Temperature (°C)</text>
<text x="484.13" y="489.32" font-size="13.7" font-weight="normal" fill="#000">Temperature (°C)</text>
<text x="58.14" y="212.81" font-size="18.5" font-weight="bold" fill="#fff">a</text>
<text x="385.20" y="216.81" font-size="18.5" font-weight="bold" fill="#fff">b</text>
<text x="57.15" y="446.71" font-size="18.5" font-weight="bold" fill="#fff">c</text>
<text x="382.86" y="453.21" font-size="18.5" font-weight="bold" fill="#fff">d</text>
<text x="311.82" y="156.90" font-size="14.0" font-weight="normal" fill="#000">T</text>
<text x="318.68" y="159.32" font-size="8.4" font-weight="normal" fill="#000">C1</text>
<text x="646.22" y="152.00" font-size="14.0" font-weight="normal" fill="#000">T</text>
<text x="653.58" y="154.32" font-size="8.4" font-weight="normal" fill="#000">C1</text>
<text x="228.32" y="381.50" font-size="14.0" font-weight="normal" fill="#000">T</text>
<text x="235.38" y="384.32" font-size="8.4" font-weight="normal" fill="#000">C3</text>
<text x="305.02" y="411.00" font-size="14.0" font-weight="normal" fill="#000">T</text>
<text x="312.08" y="413.92" font-size="8.4" font-weight="normal" fill="#000">C2</text>
<text x="561.72" y="375.50" font-size="14.0" font-weight="normal" fill="#000">T</text>
<text x="568.78" y="378.02" font-size="8.4" font-weight="normal" fill="#000">C3</text>
<text x="606.32" y="383.50" font-size="14.0" font-weight="normal" fill="#000">T</text>
<text x="613.38" y="386.22" font-size="8.4" font-weight="normal" fill="#000">C2</text>
<text x="640.12" y="383.50" font-size="14.0" font-weight="normal" fill="#000">T</text>
<text x="647.18" y="386.22" font-size="8.4" font-weight="normal" fill="#000">C4</text>
</g>
</svg></body></html>
